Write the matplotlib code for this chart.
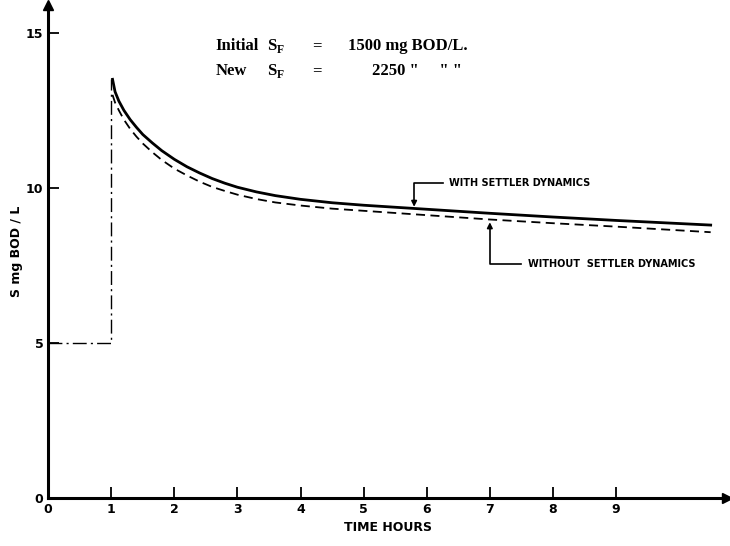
import matplotlib.pyplot as plt

# step input (dash-dot)
step_t = [0, 1.0, 1.0]
step_s = [5, 5, 13.5]

# with settler dynamics (solid)
t_with = [1.02, 1.06, 1.12, 1.2, 1.3, 1.4, 1.5, 1.65, 1.8, 2.0, 2.2, 2.4, 2.6, 2.8, 3.0, 3.3, 3.6, 4.0, 4.5, 5.0, 6.0, 7.0, 8.0, 9.0, 10.5]
s_with = [13.5, 13.1, 12.8, 12.5, 12.2, 11.95, 11.72, 11.45, 11.2, 10.92, 10.68, 10.48, 10.3, 10.15, 10.02, 9.87, 9.75, 9.63, 9.52, 9.44, 9.31, 9.18, 9.06, 8.95, 8.8]

# without settler dynamics (dashed)
t_without = [1.02, 1.06, 1.12, 1.2, 1.3, 1.4, 1.5, 1.65, 1.8, 2.0, 2.2, 2.4, 2.6, 2.8, 3.0, 3.3, 3.6, 4.0, 4.5, 5.0, 6.0, 7.0, 8.0, 9.0, 10.5]
s_without = [13.0, 12.75, 12.5, 12.2, 11.9, 11.65, 11.43, 11.15, 10.9, 10.62, 10.4, 10.2, 10.03, 9.9, 9.78, 9.64, 9.53, 9.43, 9.33, 9.26, 9.12, 8.98, 8.86, 8.75, 8.57]

x_ticks = [0, 1, 2, 3, 4, 5, 6, 7, 8, 9]
y_ticks = [0, 5, 10, 15]

fig = plt.figure(figsize=(7.3, 5.46), dpi=100)
ax = fig.add_axes([0.066, 0.088, 0.93, 0.903])

ax.plot(step_t, step_s, color='black', lw=1.0, ls=(0, (10, 3, 1.5, 3)))
ax.plot(t_with, s_with, color='black', lw=2.0)
ax.plot(t_without, s_without, color='black', lw=1.3, ls=(0, (5, 3)))

ax.set_xlim(0, 10.76)
ax.set_ylim(0, 15.9)
for side in ['top', 'right']:
    ax.spines[side].set_visible(False)
for side in ['left', 'bottom']:
    ax.spines[side].set_linewidth(2.2)
ax.plot(1, 0, '>k', ms=7, transform=ax.transAxes, clip_on=False)
ax.plot(0, 1, '^k', ms=7, transform=ax.transAxes, clip_on=False)

ax.set_xticks(x_ticks)
ax.set_yticks(y_ticks)
ax.tick_params(direction='in', length=8, width=1.3, labelsize=9)
for lab in ax.get_xticklabels() + ax.get_yticklabels():
    lab.set_fontweight('bold')

ax.set_xlabel('TIME HOURS', fontsize=9, fontweight='bold', labelpad=4)
ax.set_ylabel('S mg BOD / L', fontsize=9, fontweight='bold', labelpad=2)

# header text
serif = 'Liberation Serif'
hdr = dict(fontsize=12, family=serif, fontweight='bold')
ax.text(2.65, 14.45, 'Initial', **hdr)
ax.text(3.47, 14.45, r'S$_\mathregular{F}$', **hdr)
ax.text(4.18, 14.45, '=', **hdr)
ax.text(4.75, 14.45, '1500 mg BOD/L.', **hdr)
ax.text(2.65, 13.65, 'New', **hdr)
ax.text(3.47, 13.65, r'S$_\mathregular{F}$', **hdr)
ax.text(4.18, 13.65, '=', **hdr)
ax.text(5.13, 13.65, '2250 "     " "', **hdr)

# annotations
ax.plot([5.8, 5.8, 6.25], [9.55, 10.15, 10.15], color='black', lw=1.2)
ax.annotate('', xy=(5.8, 9.3), xytext=(5.8, 9.6),
            arrowprops=dict(arrowstyle='-|>', color='black', lw=1.2, mutation_scale=8))
ax.text(6.35, 10.15, 'WITH SETTLER DYNAMICS', fontsize=7, fontweight='bold', va='center')

ax.plot([7.0, 7.0, 7.5], [8.75, 7.55, 7.55], color='black', lw=1.2)
ax.annotate('', xy=(7.0, 8.98), xytext=(7.0, 8.7),
            arrowprops=dict(arrowstyle='-|>', color='black', lw=1.2, mutation_scale=8))
ax.text(7.6, 7.55, 'WITHOUT  SETTLER DYNAMICS', fontsize=7, fontweight='bold', va='center')

fig.savefig('out.png', dpi=100)
